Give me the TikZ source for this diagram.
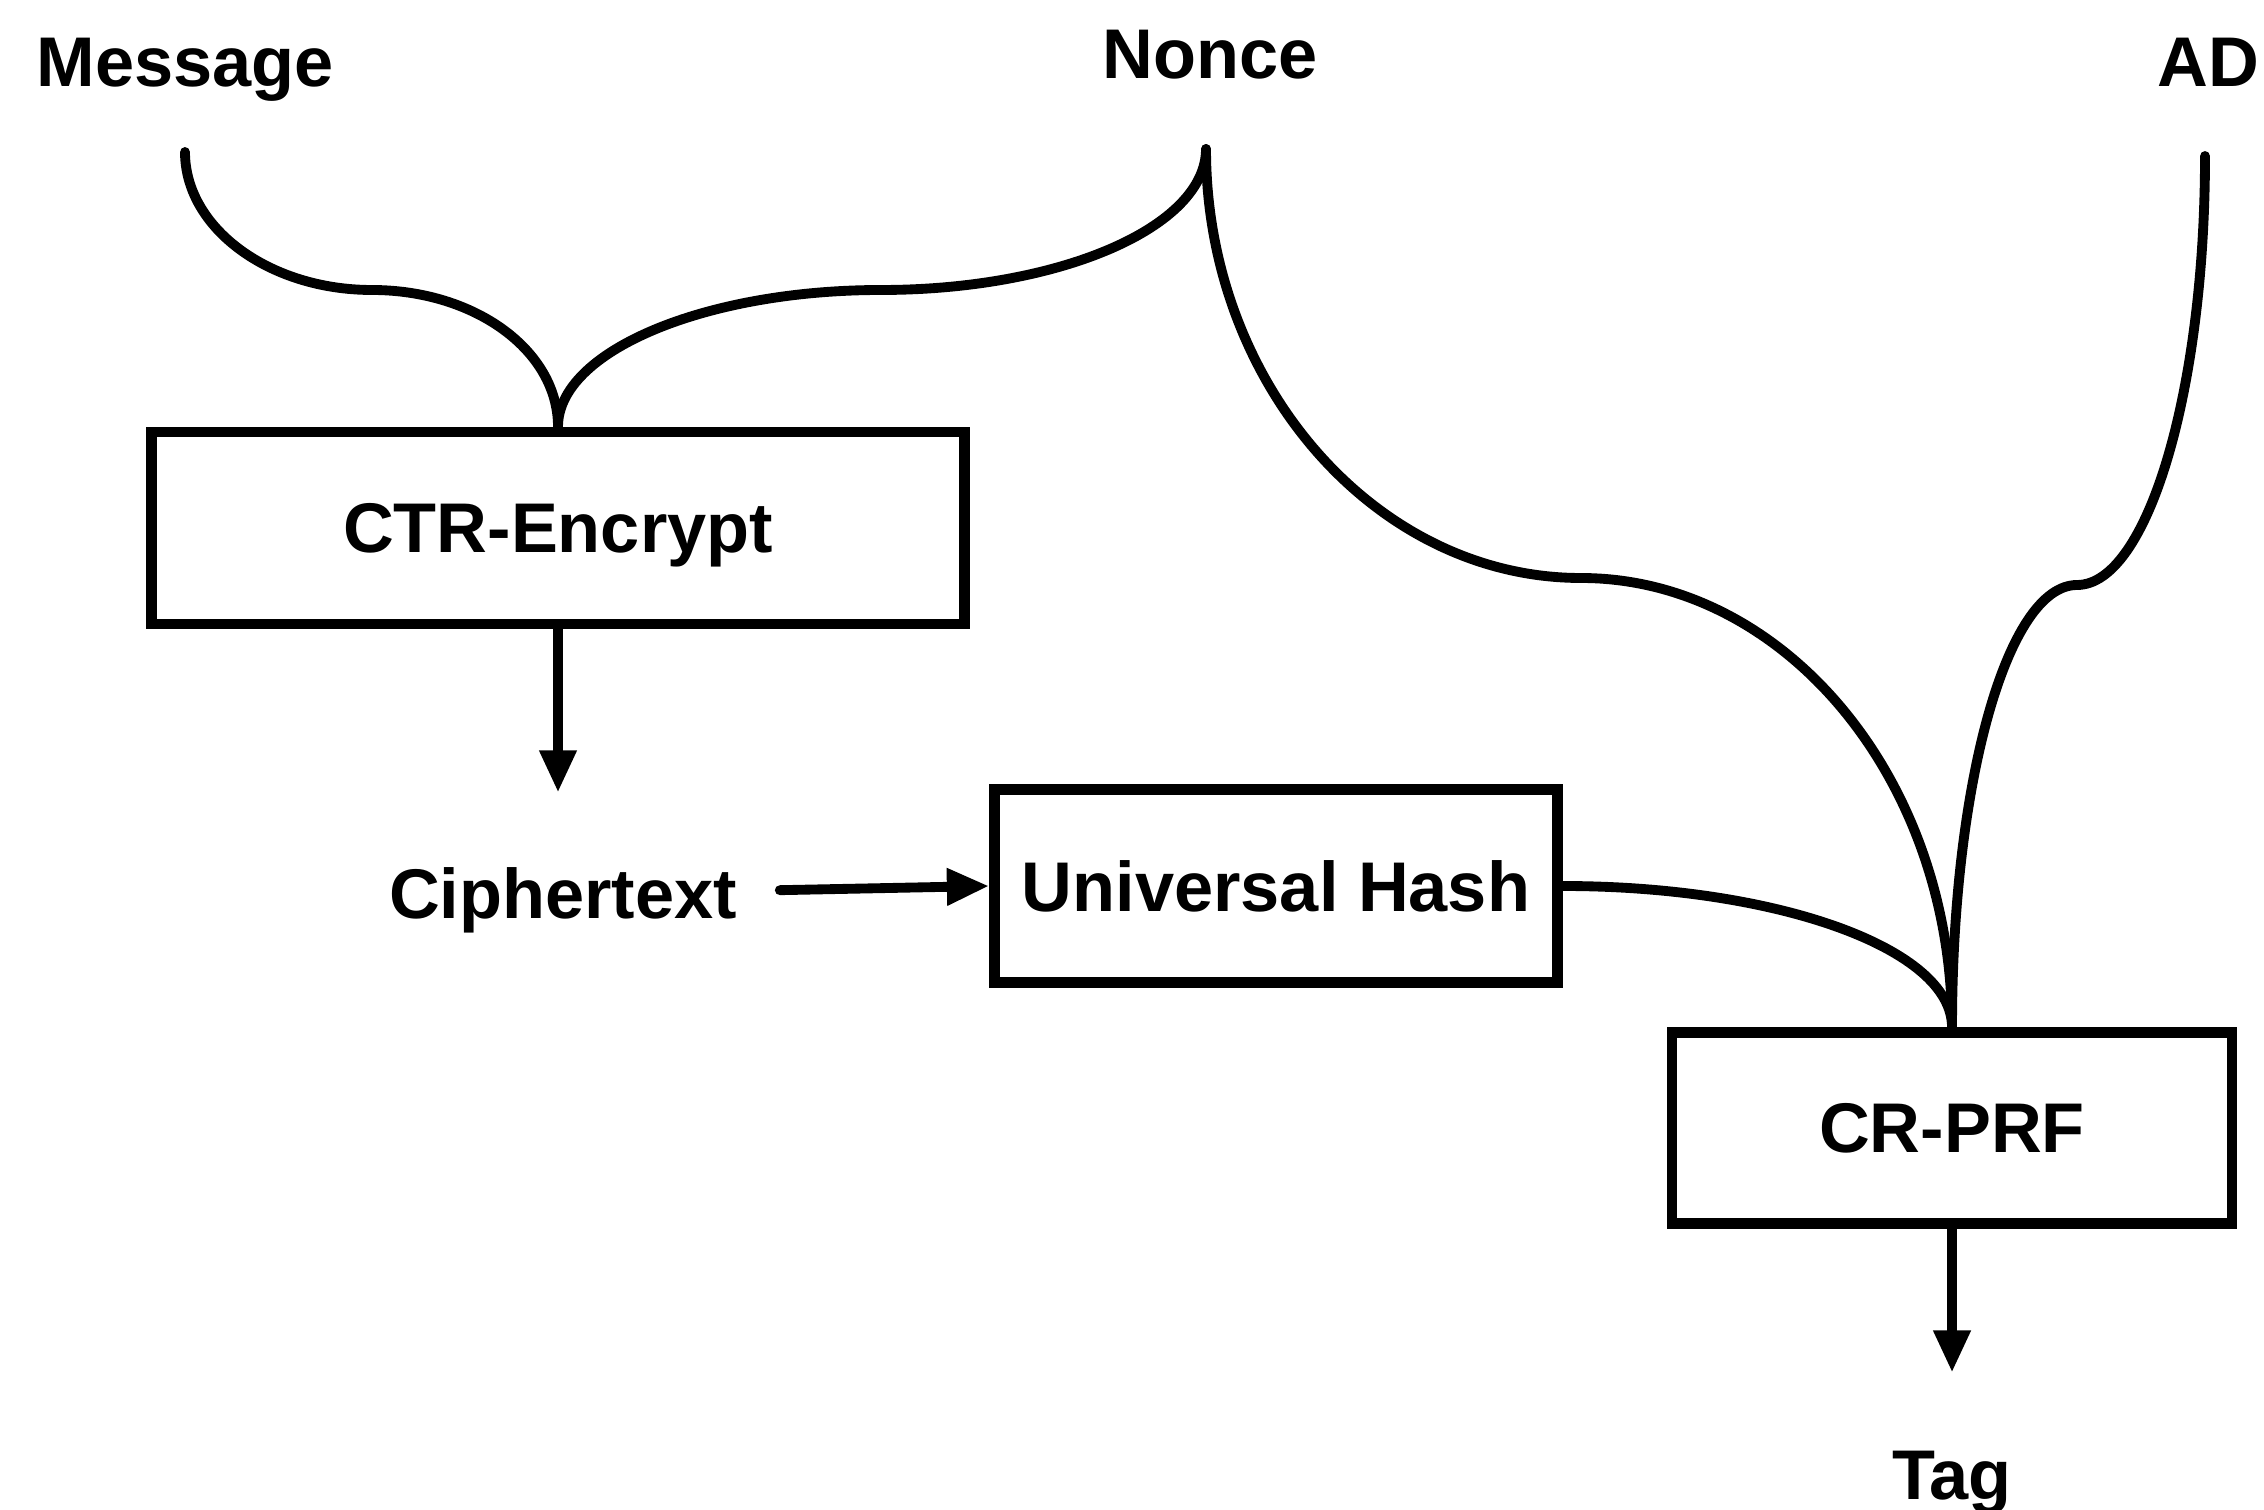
\documentclass[tikz,border=0pt]{standalone}
\usepackage{fontspec}
\setmainfont{Liberation Sans}
\usetikzlibrary{arrows.meta}
\begin{document}
\begin{tikzpicture}[x=0.01cm, y=-0.01cm, line join=round, line cap=round,
		>={Triangle[length=12pt,width=10pt]},
		wire/.style={line width=2.8pt},
		blk/.style={draw, line width=3pt, line join=miter, inner sep=0pt, text depth=0pt, font=\fontsize{20}{24}\selectfont\bfseries},
		lbl/.style={inner sep=0pt, anchor=base, font=\fontsize{20}{24}\selectfont\bfseries}]
	%%%%%%%%%%%%%%%%%%%%%%%%%%%%%%%%%
	\useasboundingbox (0,0) rectangle (2264,1510);
	%%%%%%%%%%%%%%%%%%%%%%%%%%%%%%%%%
	\node[lbl] (msg) at (185,87) {Message};
	\node[lbl] (non) at (1210,79) {Nonce};
	\node[lbl] (ad) at (2208,87) {AD};
	\node[blk, minimum width=8.12cm, minimum height=1.92cm] (ctr) at (558,528) {CTR-Encrypt};
	\node[lbl] (ct) at (563,918) {Ciphertext};
	\node[blk, minimum width=5.63cm, minimum height=1.93cm] (uh) at (1276,886) {Universal Hash};
	\node[blk, minimum width=5.60cm, minimum height=1.91cm] (prf) at (1952,1128) {CR-PRF};
	\node[lbl] (tag) at (1952,1499) {Tag};
	%%%%%%%%%%%%%%%%%%%%%%%%%%%%%%%%%
	\coordinate (m0) at (185,152);
	\coordinate (m1) at (372,290);
	\coordinate (n0) at (1206,149);
	\coordinate (n1) at (881,290);
	\coordinate (n2) at (1581,578);
	\coordinate (a0) at (2205,156);
	\coordinate (a1) at (2077,585);
	%%%%%%%%%%%%%%%%%%%%%%%%%%%%%%%%%
	\begin{scope}[wire]
		\draw (m0) .. controls +(0,76) and +(-103,0) .. (m1) .. controls +(103,0) and +(0,-76) .. (ctr.north);
		\draw (n0) .. controls +(0,78) and +(179,0) .. (n1) .. controls +(-177,0) and +(0,-75) .. (ctr.north);
		\draw (n0) .. controls +(0,234) and +(-206,0) .. (n2) .. controls +(203,0) and +(0,-249) .. (prf.north);
		\draw (a0) .. controls +(0,236) and +(70,0) .. (a1) .. controls +(-70,0) and +(0,-243) .. (prf.north);
		\draw (uh.east) .. controls +(213,0) and +(0,-79) .. (prf.north);
	\end{scope}
	%%%%%%%%%%%%%%%%%%%%%%%%%%%%%%%%%
	\draw[wire, ->, shorten >=21pt] (ctr.south) -- (ctr.south |- ct.north);
	\draw[wire, ->, shorten <=12pt] ([yshift=2.5pt]ct.east) -- (uh.west);
	\draw[wire, ->, shorten >=22pt] (prf.south) -- (prf.south |- tag.north);
	%%%%%%%%%%%%%%%%%%%%%%%%%%%%%%%%%
\end{tikzpicture}
\end{document}
